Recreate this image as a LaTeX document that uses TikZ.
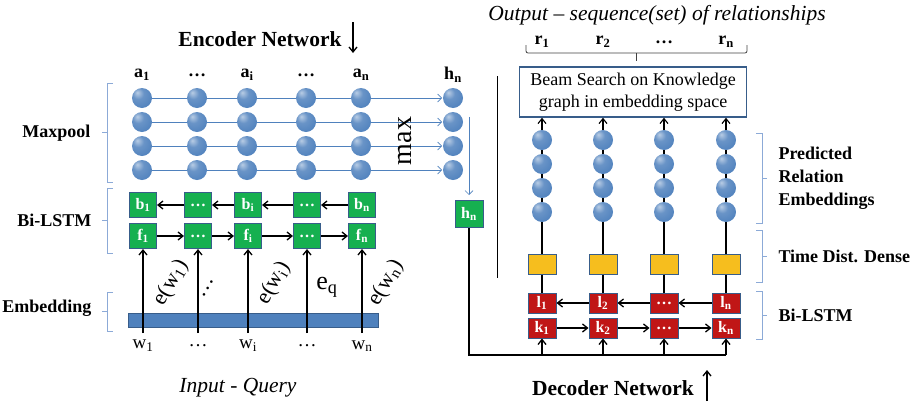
\documentclass[tikz,border=0pt]{standalone}
\usepackage{fontspec}
\setmainfont{Liberation Serif}
\usetikzlibrary{arrows.meta,positioning,calc,backgrounds}
\definecolor{nnball}{RGB}{79,129,189}
\definecolor{nnedge}{RGB}{56,93,138}
\definecolor{nngreen}{RGB}{22,176,80}
\definecolor{nnred}{RGB}{192,22,22}
\definecolor{nnyel}{RGB}{246,190,30}
\definecolor{nnbrk}{RGB}{140,170,215}
\pgfdeclareradialshading{orb}{\pgfpoint{-12bp}{14bp}}{%
  color(0bp)=(nnball!40!white); color(14bp)=(nnball!85!white);
  color(36bp)=(nnball); color(50bp)=(nnball!85!black); color(70bp)=(nnball!80!black)}
\tikzset{
  unit/.style={circle, minimum size=20pt, inner sep=0pt, shading=orb},
  cell/.style={
    draw=nnedge, line width=1pt, inner sep=0pt, text=white,
    minimum width=27pt, minimum height=25pt, font=\fontsize{16}{16}\selectfont\bfseries
  },
  fcell/.style={cell, fill=nngreen},
  dcell/.style={cell, fill=nnred, minimum width=28pt, minimum height=20pt},
  dense/.style={draw=nnedge, line width=1pt, fill=nnyel, minimum width=28pt, minimum height=20pt},
  arr/.style={-{Straight Barb[length=5pt,width=8pt]}, line width=1.3pt},
  pool/.style={-{Straight Barb[length=4pt,width=8pt]}, draw=nnball, line width=0.7pt},
  brk/.style={draw=nnbrk, line width=0.8pt},
  side/.style={font=\fontsize{18}{23}\selectfont\bfseries, align=left},
  ttl/.style={font=\fontsize{21.5}{24}\selectfont\bfseries},
  itl/.style={font=\fontsize{21.5}{24}\selectfont\itshape},
  idx/.style={font=\fontsize{18}{20}\selectfont\bfseries},
  word/.style={font=\fontsize{19}{20}\selectfont, inner sep=1pt},
  emb/.style={font=\fontsize{22}{22}\selectfont, inner sep=0pt}
}

\begin{document}
\begin{tikzpicture}[x=1pt, y=-1pt]
  \useasboundingbox (0,0) rectangle (912,402);

  % titles
  \node[ttl] (enc) at (260,39) {Encoder Network};
  \coordinate (encA) at (353,22);
  \coordinate (encB) at (353,53);
  \draw[arr] (encA) -- (encB);
  \node[itl] (inq) at (238,388) {Input - Query};
  \node[itl] (outq) at (657,15) {Output -- sequence(set) of relationships};
  \node[ttl] (dec) at (613,388) {Decoder Network};
  \coordinate (decA) at (707,401);
  \coordinate (decB) at (707,370);
  \draw[arr] (decA) -- (decB);

  % encoder: maxpool units
  \foreach \x/\t [count=\i] in {142/a\textsubscript{1}, 197/\dots, 247/a\textsubscript{i}, 306/\dots, 361/a\textsubscript{n}} {
    \node[idx] (al\i) at (\x,75) {\t};
    \foreach \y [count=\j] in {98,122,146,170}
      \node[unit] (a\i\j) at (\x,\y) {};
  }
  \node[idx] (hl) at (453,75) {h\textsubscript{n}};
  \foreach \y [count=\j] in {98,122,146,170}
    \node[unit] (h\j) at (453,\y) {};
  \begin{scope}[on background layer]
    \foreach \j in {1,...,4}
      \draw[pool, shorten >=11pt] (a1\j.center) -- (h\j.center);
  \end{scope}
  \node[font=\fontsize{28}{28}\selectfont, rotate=90] (mx) at (405,141) {max};

  % encoder: bi-lstm
  \foreach \x/\b/\f [count=\i] in {143/b\textsubscript{1}/f\textsubscript{1}, 198/\dots/\dots,
      248/b\textsubscript{i}/f\textsubscript{i}, 307/\dots/\dots, 362/b\textsubscript{n}/f\textsubscript{n}} {
    \node[fcell] (b\i) at (\x,205) {\b};
    \node[fcell] (f\i) at (\x,236) {\f};
  }
  \foreach \i/\j in {1/2,2/3,3/4,4/5} {
    \draw[arr] (b\j) -- (b\i);
    \draw[arr] (f\i) -- (f\j);
  }

  % encoder: embedding
  \node[draw=nnedge, fill=nnball, minimum width=250pt, minimum height=14pt, inner sep=0pt] (bar) at (253,320) {};
  \foreach \x/\t [count=\i] in {143/w\textsubscript{1}, 198/\dots, 248/w\textsubscript{i}, 307/\dots, 362/w\textsubscript{n}} {
    \node[word] (w\i) at (\x,346) {\t};
    \draw[arr] ([yshift=-6pt]bar.south -| w\i) -- (f\i.south);
  }
  \node[emb, rotate=60] (e1) at (171,283) {e(w\textsubscript{1})};
  \node[emb, rotate=60] (e2) at (208,288) {\dots};
  \node[emb, rotate=60] (e3) at (274,283) {e(w\textsubscript{i})};
  \node[emb, font=\fontsize{26}{26}\selectfont] (e4) at (327,287) {e\textsubscript{q}};
  \node[emb, rotate=60] (e5) at (386,283) {e(w\textsubscript{n})};

  % encoder side labels
  \node[side, anchor=east] (lmax) at (94,133) {Maxpool};
  \node[side, anchor=east] (lbi) at (95,220) {Bi-LSTM};
  \node[side, anchor=east] (lemb) at (95,308) {Embedding};
  \foreach \ya/\yb in {83/182, 188/253, 292/331}
    \draw[brk] (113,\ya) -- (107,\ya) -- (107,\yb) -- (113,\yb) (107,{(\ya+\yb)/2}) -- (102,{(\ya+\yb)/2});

  % hand-over from encoder to decoder
  \node[fcell, minimum width=28pt, minimum height=27pt] (hb) at (469,214) {h\textsubscript{n}};
  \draw[pool, shorten >=5pt] ([yshift=-5pt]hb.north |- h2.north) -- (hb.north);
  \draw[line width=0.8pt] (497,76) -- (497,278);

  % decoder columns
  \node[draw=nnedge, line width=1.4pt, minimum width=227pt, minimum height=50pt, align=center,
    font=\fontsize{18}{22}\selectfont] (beam) at (633,92) {Beam Search on Knowledge\\graph in embedding space};
  \foreach \x/\r/\l/\k [count=\i] in {542/r\textsubscript{1}/l\textsubscript{1}/k\textsubscript{1},
      603/r\textsubscript{2}/l\textsubscript{2}/k\textsubscript{2}, 664/\dots/\dots/\dots,
      726/r\textsubscript{n}/l\textsubscript{n}/k\textsubscript{n}} {
    \node[idx] (r\i) at (\x,42) {\r};
    \foreach \y [count=\j] in {140,164,188,212}
      \node[unit] (p\i\j) at (\x,\y) {};
    \node[dense] (t\i) at (\x,264) {};
    \node[dcell] (l\i) at (\x,303) {\l};
    \node[dcell] (k\i) at (\x,328) {\k};
    \draw[arr, line width=1.1pt] (p\i1) -- (p\i1 |- beam.south);
    \draw[line width=1.1pt] (p\i1) -- (p\i2) (p\i2) -- (p\i3) (p\i3) -- (p\i4);
    \draw[line width=1.1pt] (p\i4) -- (t\i) (t\i) -- (l\i);
  }
  \foreach \i/\j in {1/2,2/3,3/4} {
    \draw[arr] (l\j) -- (l\i);
    \draw[arr] (k\i) -- (k\j);
  }
  \draw[line width=0.8pt, black!75, rounded corners=2pt] (526,45) -- (526,53) -- (747,53) -- (747,45);
  \draw[line width=0.8pt, black!75] (636,53) -- (636,61);

  % decoder input bus
  \coordinate (bus) at (469,355);
  \draw[line width=1.3pt] (hb.south) -- (bus) -- (bus -| k4);
  \foreach \i in {1,...,4}
    \draw[arr] (bus -| k\i) -- (k\i.south);

  % decoder side labels
  \node[side, anchor=west] (lpre) at (775,178) {Predicted\\Relation\\Embeddings};
  \node[side, anchor=west] (ltd) at (775,256) {Time Dist. Dense};
  \node[side, anchor=west] (lbi2) at (775,315) {Bi-LSTM};
  \foreach \ya/\yb in {133/223, 230/282, 291/339}
    \draw[brk] (756,\ya) -- (762,\ya) -- (762,\yb) -- (756,\yb) (762,{(\ya+\yb)/2}) -- (767,{(\ya+\yb)/2});
\end{tikzpicture}
\end{document}
